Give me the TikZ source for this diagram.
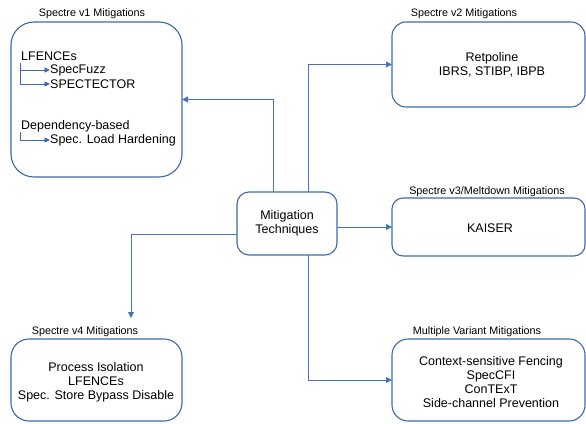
\documentclass[tikz,border=0pt]{standalone}
\usepackage{fontspec}
\setmainfont{Liberation Sans}
\usetikzlibrary{arrows.meta}
\definecolor{edge}{RGB}{62,104,172}
\definecolor{wire}{RGB}{72,116,184}
\begin{document}
\begin{tikzpicture}[x=1pt,y=-1pt,
  box/.style={draw=edge, line width=1.1pt, inner sep=0pt, outer sep=0pt, align=center,
    font=\fontsize{12.5}{14}\selectfont},
  grp/.style={font=\fontsize{10.8}{12}\selectfont, inner sep=0pt},
  item/.style={font=\fontsize{12.5}{14}\selectfont, inner sep=0pt, anchor=west},
  conn/.style={draw=wire, line width=1pt, -{Triangle[length=6pt,width=6pt]}},
  sub/.style={draw=edge, line width=0.9pt, -{Triangle[length=5.5pt,width=5pt]}}]
\useasboundingbox (0,0) rectangle (586,423);

% central node
\node[box, rounded corners=12pt, minimum width=100pt, minimum height=63pt]
  (mt) at (287,223.5) {Mitigation\\Techniques};

% mitigation groups
\node[box, rounded corners=23pt, minimum width=171pt, minimum height=155pt] (v1) at (96.5,99.5) {};
\node[grp] (v1l) at (92,14) {Spectre v1 Mitigations};
\node[box, rounded corners=14pt, minimum width=193pt, minimum height=85pt] (v2) at (488.5,64.5) {};
\node[box, draw=none] (v2t) at (492,65) {Retpoline\\IBRS, STIBP, IBPB};
\node[grp] (v2l) at (464,14) {Spectre v2 Mitigations};
\node[box, rounded corners=11pt, minimum width=193pt, minimum height=58pt] (v3) at (488.5,227) {};
\node[box, draw=none] (v3t) at (490,228) {KAISER};
\node[grp] (v3l) at (487,192) {Spectre v3/Meltdown Mitigations};
\node[box, rounded corners=18pt, minimum width=171pt, minimum height=82pt] (v4) at (96.5,380) {};
\node[box, draw=none] (v4t) at (96,382) {Process Isolation\\LFENCEs\\Spec. Store Bypass Disable};
\node[grp] (v4l) at (85,332) {Spectre v4 Mitigations};
\node[box, rounded corners=16pt, minimum width=193pt, minimum height=82pt] (mv) at (488.5,380) {};
\node[box, draw=none] (mvt) at (491,382) {Context-sensitive Fencing\\SpecCFI\\ConTExT\\Side-channel Prevention};
\node[grp] (mvl) at (477,332) {Multiple Variant Mitigations};

% Spectre v1 contents
\node[item] (lf) at (21,56) {LFENCEs};
\node[item] (sf) at (50,70) {SpecFuzz};
\node[item] (sc) at (50,84) {SPECTECTOR};
\node[item] (db) at (21,126) {Dependency-based};
\node[item] (slh) at (50,140) {Spec. Load Hardening};
\coordinate (lfs) at (20,63);
\coordinate (dbs) at (20,132);
\draw[sub] (lfs) |- (sf.west);
\draw[sub] (lfs) |- (sc.west);
\draw[sub] (dbs) |- (slh.west);

% connector routing
\coordinate (ta) at (273,0);
\coordinate (tb) at (308,0);
\coordinate (lb) at (131,234);
\coordinate (v4in) at (131,318);
\draw[conn] (mt.north -| ta) |- (v1.east);
\draw[conn] (mt.north -| tb) |- (v2.west);
\draw[conn] (mt.east |- v3.west) -- (v3.west);
\draw[conn] (mt.south -| tb) |- (mv.west);
\draw[conn] (mt.west |- lb) -| (v4in);
\end{tikzpicture}
\end{document}
